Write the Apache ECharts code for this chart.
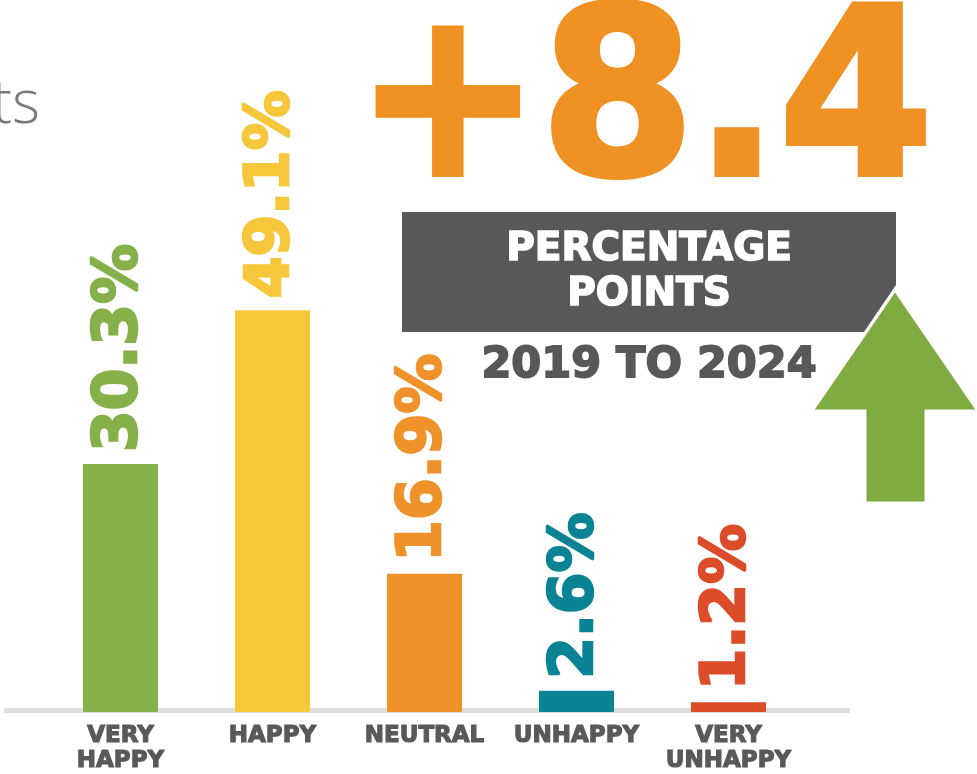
<!DOCTYPE html>
<html>
<head>
<meta charset="utf-8">
<script src="https://cdn.jsdelivr.net/npm/echarts@6/dist/echarts.min.js"></script>
<style>
  html, body { margin: 0; padding: 0; background: #fff; }
  #main { width: 977px; height: 774px; }
</style>
</head>
<body>
<div id="main"></div>
<script>
// data
var categories = ["VERY\nHAPPY", "HAPPY", "NEUTRAL", "UNHAPPY", "VERY\nUNHAPPY"];
var shares = [30.3, 49.1, 16.9, 2.6, 1.2];
var barColors = ["#86b04a", "#f6c63b", "#f0922a", "#0a8494", "#dc4c29"];
var changeText = "+8.4";

var heavy = "'DejaVu Sans'";
var darkGray = "#58585a";
var chart = echarts.init(document.getElementById("main"));

// bold text made heavier with a stroke in the same colour
function heavyText(x, y, text, size, fill, extra) {
  var el = {
    type: "text", x: x, y: y,
    style: {
      text: text, fill: fill, stroke: fill, lineWidth: extra,
      font: "bold " + size + "px " + heavy,
      textAlign: "center", textVerticalAlign: "middle"
    }
  };
  return el;
}

var bigNumber = heavyText(644, 114, changeText, 232, "#f09123", 6);
bigNumber.scaleX = 0.955;

var option = {
  animation: false,
  grid: { left: 44.5, right: 172.5, top: 221, bottom: 61 },
  xAxis: {
    type: "category",
    data: categories,
    axisLine: { show: false },
    axisTick: { show: false },
    axisLabel: {
      interval: 0,
      margin: 12,
      color: "#58595b",
      textBorderColor: "#58595b",
      textBorderWidth: 1.2,
      fontFamily: "DejaVu Sans",
      fontWeight: "bold",
      fontSize: 23,
      lineHeight: 25
    }
  },
  yAxis: {
    type: "value",
    min: 0,
    max: 60,
    show: false,
    splitLine: { show: false }
  },
  graphic: [
    // baseline
    { type: "rect", z: 0, shape: { x: 4, y: 708, width: 846, height: 5 }, style: { fill: "#dcdede" } },
    // cropped title
    { type: "text", x: 40, y: 106, style: { text: "ts", fill: "#7a7a7a", font: "300 60px 'Open Sans'", textAlign: "right", textVerticalAlign: "middle" } },
    // big change number
    bigNumber,
    // dark box
    { type: "polygon", shape: { points: [[402, 212], [896, 212], [896, 285], [864, 332], [402, 332]] }, style: { fill: darkGray } },
    heavyText(649, 250, "PERCENTAGE", 39, "#fff", 1.6),
    heavyText(649, 295, "POINTS", 39, "#fff", 1.6),
    heavyText(649, 366, "2019 TO 2024", 43, darkGray, 1.8),
    // up arrow
    { type: "polygon", shape: { points: [[895, 290], [978, 411], [926, 411], [926, 503], [865, 503], [865, 411], [812, 411]] }, style: { fill: "#7fab41", stroke: "#fff", lineWidth: 3 } }
  ],
  series: [
    {
      type: "bar",
      barWidth: 75,
      data: shares.map(function (v, i) {
        return {
          value: v,
          itemStyle: { color: barColors[i] },
          label: { color: barColors[i], textBorderColor: barColors[i] }
        };
      }),
      label: {
        show: true,
        position: "top",
        rotate: 90,
        align: "left",
        verticalAlign: "middle",
        distance: 9,
        offset: [3, 0],
        textBorderWidth: 2.5,
        fontFamily: "DejaVu Sans",
        fontWeight: "bold",
        fontSize: 60,
        formatter: function (p) { return p.value + "%"; }
      }
    }
  ]
};

chart.setOption(option);
</script>
</body>
</html>
